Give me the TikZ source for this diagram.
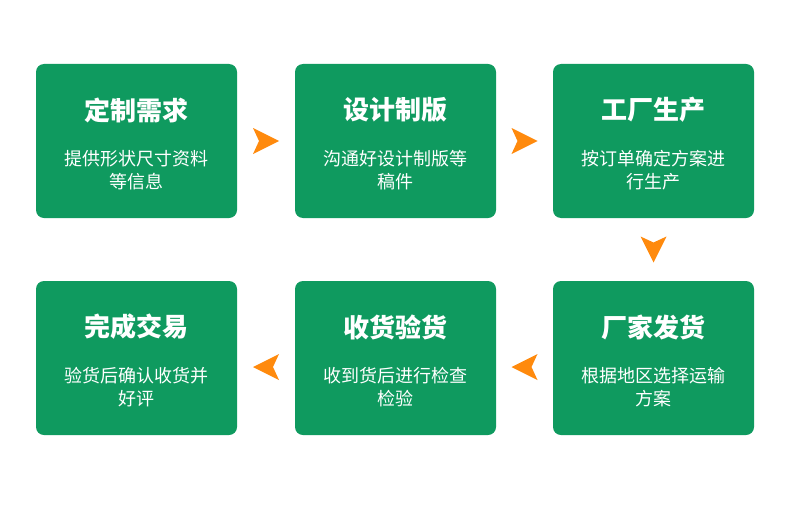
\documentclass[tikz,border=0pt]{standalone}
\usepackage{fontspec}
\setmainfont{Noto Sans CJK SC}
\usetikzlibrary{positioning, calc}
\definecolor{boxgreen}{HTML}{0F9A5F}
\definecolor{arroworange}{HTML}{FF8A0D}
\newcommand{\chevron}[2]{\fill[arroworange, rotate around={#2:(#1)}] ($(#1)+(13,0)$) -- ($(#1)+(-13,-13)$) -- ($(#1)+(-7,0)$) -- ($(#1)+(-13,13)$) -- cycle;}

\begin{document}
\begin{tikzpicture}[x=0.5pt, y=-0.5pt]
    % Styles
    \tikzstyle{stepbox} = [rectangle, rounded corners=4pt, minimum width=100.5pt, minimum height=77pt, fill=boxgreen, draw=none, text=white, align=center, inner sep=0pt]
    \tikzstyle{title} = [font=\bfseries\fontsize{13}{15}\selectfont]
    \tikzstyle{body} = [font=\fontsize{9}{11.5}\selectfont, align=center]

    \useasboundingbox (0,0) rectangle (790,519);

    % Boxes
    \node[stepbox] (s1) at (136.5,141) {};
    \node[stepbox] (s2) at (395.5,141) {};
    \node[stepbox] (s3) at (653.5,141) {};
    \node[stepbox] (s4) at (653.5,358) {};
    \node[stepbox] (s5) at (395.5,358) {};
    \node[stepbox] (s6) at (136.5,358) {};

    % Texts
    \foreach \n/\t/\b in {s1/定制需求/{提供形状尺寸资料\\等信息}, s2/设计制版/{沟通好设计制版等\\稿件}, s3/工厂生产/{按订单确定方案进\\行生产}, s4/厂家发货/{根据地区选择运输\\方案}, s5/收货验货/{收到货后进行检查\\检验}, s6/完成交易/{验货后确认收货并\\好评}} {
        \node[title, text=white] at ([yshift=15.5pt]\n.center) {\t};
        \node[body, text=white, anchor=north] at ([yshift=-1pt]\n.center) {\b};
    }

    % Arrows
    \coordinate (a12) at ($(s1.east)!0.5!(s2.west)$);
    \coordinate (a23) at ($(s2.east)!0.5!(s3.west)$);
    \coordinate (a34) at ($(s3.south)!0.5!(s4.north)$);
    \coordinate (a45) at ($(s4.west)!0.5!(s5.east)+(0,9)$);
    \coordinate (a56) at ($(s5.west)!0.5!(s6.east)+(0,9)$);
    \chevron{a12}{0}
    \chevron{a23}{0}
    \chevron{a34}{-90}
    \chevron{a45}{180}
    \chevron{a56}{180}
\end{tikzpicture}
\end{document}
